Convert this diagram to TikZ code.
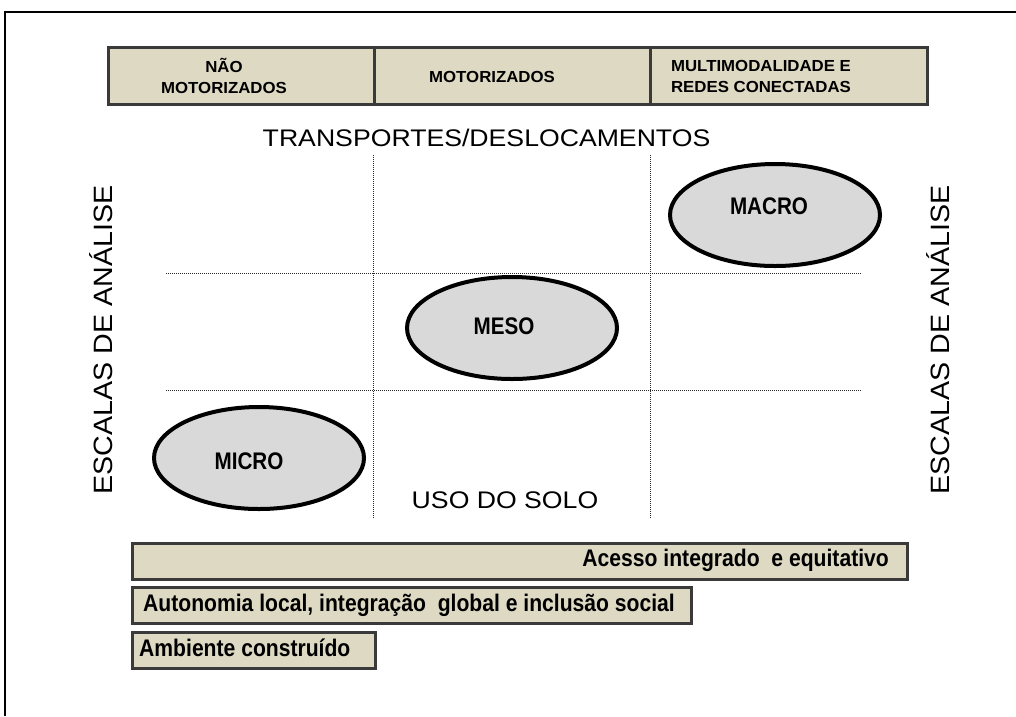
\documentclass[tikz,border=0pt]{standalone}
\usetikzlibrary{shapes.geometric}
\usepackage{fontspec}
\setmainfont{Liberation Sans}
\newfontfamily\headf[FakeStretch=1.05]{Liberation Sans Bold}
\newfontfamily\barf[FakeStretch=0.88]{Liberation Sans Bold}
\newfontfamily\ellf[FakeStretch=0.86]{Liberation Sans Bold}
\newfontfamily\axisf[FakeStretch=1.11]{Liberation Sans}
\newfontfamily\sidef[FakeStretch=1.08]{Liberation Sans}
\definecolor{beige}{HTML}{DDD9C3}
\definecolor{edge}{HTML}{3A3A3A}
\definecolor{ellfill}{HTML}{D9D9D9}
\begin{document}
\begin{tikzpicture}[x=1pt,y=-1pt,
  cellbox/.style={draw=edge,line width=3pt,fill=beige,minimum height=57pt,inner sep=0pt},
  celltext/.style={font=\headf\fontsize{16}{21}\selectfont,align=center,inner sep=0pt},
  barbox/.style={draw=edge,line width=3pt,fill=beige,minimum height=36pt,inner sep=0pt},
  bartext/.style={font=\barf\fontsize{24}{24}\selectfont,inner sep=0pt},
  scaleell/.style={ellipse,draw=black,line width=4pt,fill=ellfill,minimum width=210pt,minimum height=102pt,inner sep=0pt},
  scalelabel/.style={font=\ellf\fontsize{24}{24}\selectfont,inner sep=0pt},
  axistext/.style={font=\axisf\fontsize{24}{24}\selectfont,inner sep=0pt},
  sidetext/.style={font=\sidef\fontsize{26.5}{26.5}\selectfont,inner sep=0pt,rotate=90},
  gridline/.style={densely dotted,line width=1pt,draw=black!85}]
\useasboundingbox (0,0) rectangle (1016,716);
% outer frame
\draw[line width=2pt] (5,716) -- (5,12) -- (1016,12);
% header cells
\node[cellbox,minimum width=266pt] (c1) at (241,75.5) {};
\node[cellbox,minimum width=276pt] (c2) at (512,75.5) {};
\node[cellbox,minimum width=277pt] (c3) at (788.5,75.5) {};
\node[celltext] (t1) at (224,76) {NÃO\\MOTORIZADOS};
\node[celltext] (t2) at (492,77) {MOTORIZADOS};
\node[celltext] (t3) at (761,76) {MULTIMODALIDADE E\\REDES CONECTADAS};
% axis title
\node[axistext] (tr) at (486.5,138) {TRANSPORTES/DESLOCAMENTOS};
% grid
\coordinate (v1t) at (373,155); \coordinate (v1b) at (373,518);
\coordinate (v2t) at (650,155); \coordinate (v2b) at (650,518);
\coordinate (h1l) at (166,273); \coordinate (h1r) at (862,273);
\coordinate (h2l) at (166,390); \coordinate (h2r) at (862,390);
\draw[gridline] (v1t) -- (v1b);
\draw[gridline] (v2t) -- (v2b);
\draw[gridline] (h1l) -- (h1r);
\draw[gridline] (h2l) -- (h2r);
% ellipses
\node[scaleell] (macro) at (775,215) {};
\node[scaleell] (meso) at (512,328) {};
\node[scaleell] (micro) at (259,458) {};
\node[scalelabel] (lmacro) at (769,206) {MACRO};
\node[scalelabel] (lmeso) at (504,326) {MESO};
\node[scalelabel] (lmicro) at (249,461) {MICRO};
% USO DO SOLO
\node[axistext] (uso) at (505,500) {USO DO SOLO};
% side labels
\node[sidetext] (sl) at (101,340) {ESCALAS DE ANÁLISE};
\node[sidetext] (sr) at (938,340) {ESCALAS DE ANÁLISE};
% bottom bars
\node[barbox,minimum width=775pt] (b1) at (519.5,561) {};
\node[barbox,minimum width=559pt] (b2) at (411.5,605.5) {};
\node[barbox,minimum width=243pt] (b3) at (253.5,650.5) {};
\node[bartext,anchor=east] (l1) at (889,560) {Acesso integrado\ \ e equitativo};
\node[bartext,anchor=west] (l2) at (143,605) {Autonomia local, integração\ \ global e inclusão social};
\node[bartext,anchor=west] (l3) at (139,648) {Ambiente construído};
\end{tikzpicture}
\end{document}
